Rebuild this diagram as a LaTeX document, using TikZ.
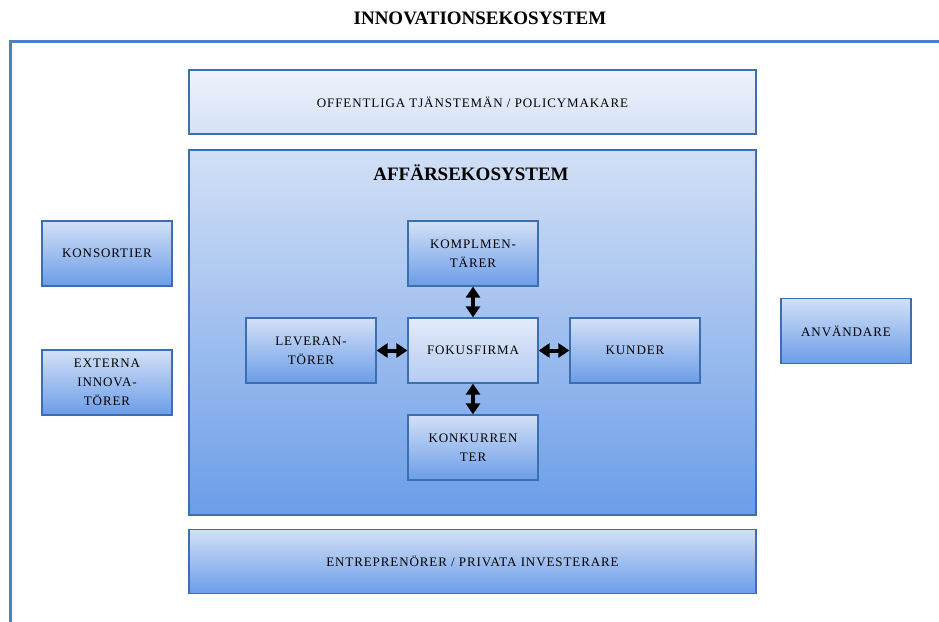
\documentclass[tikz,border=0pt]{standalone}
\usepackage{fontspec}
\setmainfont{Liberation Serif}
\usetikzlibrary{arrows.meta}
\definecolor{frameblue}{HTML}{4A80C6}
\definecolor{edgeblue}{HTML}{3B6FB0}
\definecolor{topblue}{HTML}{D2E0F6}
\definecolor{deepblue}{HTML}{6B9DE8}
\definecolor{paletop}{HTML}{EEF2FC}
\definecolor{palebottom}{HTML}{D6E1F6}
\definecolor{focustop}{HTML}{E3EBFA}
\definecolor{focusbottom}{HTML}{B4CCF2}
\tikzset{
  boxtext/.style={font=\fontsize{13}{19}\selectfont\addfontfeatures{LetterSpace=7}, align=center, text=black},
  bluebox/.style={rectangle, draw=edgeblue, line width=1.2pt, top color=topblue, bottom color=deepblue,
    minimum width=130pt, minimum height=65pt, inner sep=2pt, boxtext},
  focusbox/.style={bluebox, top color=focustop, bottom color=focusbottom},
  widebox/.style={bluebox, minimum width=567pt, minimum height=64pt},
  palebox/.style={widebox, top color=paletop, bottom color=palebottom},
  bigbox/.style={rectangle, draw=edgeblue, line width=1.2pt, top color=topblue, bottom color=deepblue,
    minimum width=567pt, minimum height=365pt, inner sep=0pt},
  heading/.style={font=\fontsize{19}{21}\selectfont\bfseries, text=black},
  link/.style={{Triangle[length=11pt,width=14pt]}-{Triangle[length=11pt,width=14pt]}, line width=4pt, black},
}
\begin{document}
\begin{tikzpicture}[x=1pt, y=-1pt]
  \clip (0,0) rectangle (939,621);
  \fill[white] (0,0) rectangle (939,621);

  % overall title and the open frame of the innovation ecosystem
  \node[heading] (title) at (480,18) {INNOVATIONSEKOSYSTEM};
  \draw[frameblue, line width=3pt] (10,640) -- (10,41.5) -- (960,41.5);

  % horizontal bands
  \node[palebox] (policy) at (472.5,102) {OFFENTLIGA TJÄNSTEMÄN / POLICYMAKARE};
  \node[bigbox] (business) at (472.5,332.5) {};
  \node[widebox] (entre) at (472.5,561.5) {ENTREPRENÖRER / PRIVATA INVESTERARE};

  \node[heading] (btitle) at (471,173) {AFFÄRSEKOSYSTEM};

  % actors inside the business ecosystem
  \node[bluebox] (kompl) at (473,253.5) {KOMPLMEN-\\TÄRER};
  \node[focusbox] (fokus) at (473,350.5) {FOKUSFIRMA};
  \node[bluebox] (lev) at (311,350.5) {LEVERAN-\\TÖRER};
  \node[bluebox] (kund) at (635,350.5) {KUNDER};
  \node[bluebox] (konk) at (473,447.5) {KONKURREN\\TER};

  % actors outside the business ecosystem
  \node[bluebox] (kons) at (107,253.5) {KONSORTIER};
  \node[bluebox] (ext) at (107,382.5) {EXTERNA\\INNOVA-\\TÖRER};
  \node[bluebox] (anv) at (846,331) {ANVÄNDARE};

  % two-way relations with the focal firm
  \draw[link] (kompl.south) -- (fokus.north);
  \draw[link] (fokus.south) -- (konk.north);
  \draw[link] (lev.east) -- (fokus.west);
  \draw[link] (fokus.east) -- (kund.west);
\end{tikzpicture}
\end{document}
